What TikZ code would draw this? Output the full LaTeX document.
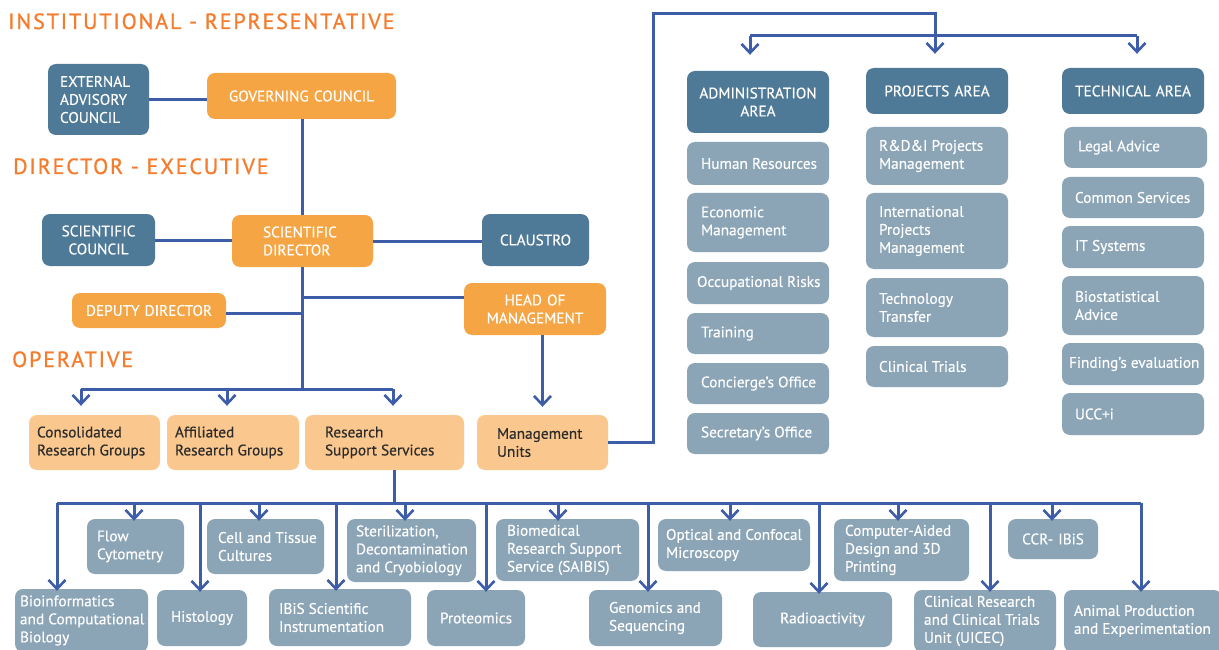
\documentclass[tikz,border=0pt]{standalone}
\usepackage{fontspec}
\setmainfont{PT Sans}[FakeBold=0.3]
\newfontfamily\boxfont{PT Sans}[FakeBold=0.35]
\newfontfamily\titlefont{PT Sans}[LetterSpace=8.5,FakeBold=0.9]
\usetikzlibrary{arrows.meta,calc}
\definecolor{dk}{HTML}{4F7A97}
\definecolor{gy}{HTML}{8BA4B6}
\definecolor{og}{HTML}{F6A545}
\definecolor{lo}{HTML}{FAC88E}
\definecolor{ln}{HTML}{3D5DA8}
\definecolor{ttl}{HTML}{F47C2C}
\definecolor{dtxt}{HTML}{2B2B2B}
% left-aligned box: #1 inset, #2 style, #3 name, #4 x1, #5 y1, #6 x2, #7 y2, #8 text
\newcommand\bx[8][10]{%
  \pgfmathsetmacro\bxw{#6-#4}%
  \pgfmathsetmacro\bxh{#7-#5}%
  \node[#2, inner sep=0pt, minimum width=\bxw pt, minimum height=\bxh pt]
        (#3) at ({(#4+#6)/2},{(#5+#7)/2}) {};
  \node[#2 text, anchor=west, align=left, inner sep=0pt]
        (#3t) at ($(#3.west)+(#1,0)$) {#8};}
% centred box
\newcommand\bc[8][10]{%
  \pgfmathsetmacro\bxtw{#6-#4-2*#1}%
  \pgfmathsetmacro\bxw{#6-#4}%
  \pgfmathsetmacro\bxh{#7-#5}%
  \node[#2, #2 text, align=center, inner xsep=#1pt, inner ysep=0pt, text width=\bxtw pt,
        minimum width=\bxw pt, minimum height=\bxh pt]
        (#3) at ({(#4+#6)/2},{(#5+#7)/2}) {#8};}
\tikzset{
  boxbase/.style={rounded corners=8pt},
  txtbase/.style={font=\boxfont\fontsize{15.3}{18}\selectfont},
  dkbox/.style={boxbase, fill=dk},
  gybox/.style={boxbase, fill=gy},
  ogbox/.style={boxbase, fill=og},
  lobox/.style={boxbase, fill=lo},
  dkbox text/.style={txtbase, text=white},
  gybox text/.style={txtbase, text=white},
  ogbox text/.style={txtbase, text=white},
  lobox text/.style={txtbase, text=dtxt},
  conn/.style={draw=ln, line width=3pt},
  arr/.style={conn, -{Straight Barb[length=9pt,width=17pt,line width=2.6pt]}},
  ttlstyle/.style={anchor=base west, inner sep=0pt, text=ttl, font=\titlefont\fontsize{22}{26}\selectfont}
}
\begin{document}
\begin{tikzpicture}[x=1pt,y=-1pt]
\useasboundingbox[fill=white] (0,0) rectangle (1219,650);

% titles
\node[ttlstyle] (t1) at (8,29) {INSTITUTIONAL - REPRESENTATIVE};
\node[ttlstyle] (t2) at (13,174) {DIRECTOR - EXECUTIVE};
\node[ttlstyle] (t3) at (12,367) {OPERATIVE};

% governance
\bx[12]{dkbox}{EAC}{48}{64}{149}{135}{EXTERNAL\\ADVISORY\\COUNCIL}
\bc[10]{ogbox}{GC}{207}{73}{396}{119}{GOVERNING COUNCIL}
\bc[8]{dkbox}{SC}{42}{214}{155}{266}{SCIENTIFIC\\COUNCIL}
\bx[31]{ogbox}{SD}{232}{215}{373}{267}{SCIENTIFIC\\DIRECTOR}
\bc[8]{dkbox}{CL}{482}{214}{589}{266}{CLAUSTRO}
\bc[6]{ogbox}{DD}{72}{293}{226}{328}{DEPUTY DIRECTOR}
\bc[6]{ogbox}{HM}{464}{283}{606}{335}{HEAD OF\\MANAGEMENT}

% operative
\bx[8]{lobox}{CRG}{29}{415}{160}{470}{Consolidated\\Research Groups}
\bx[8]{lobox}{ARG}{167}{415}{299}{470}{Affiliated\\Research Groups}
\bx[20]{lobox}{RSS}{305}{415}{464}{470}{Research\\Support Services}
\bx[20]{lobox}{MU}{477}{415}{608}{470}{Management\\Units}

% administration
\bc[6]{dkbox}{AA}{687}{71}{829}{133}{ADMINISTRATION\\AREA}
\bx[14]{gybox}{HR}{687}{142}{829}{185}{Human Resources}
\bx[14]{gybox}{EM}{687}{193}{829}{252}{Economic\\Management}
\bx[10]{gybox}{OR}{687}{262}{829}{304}{Occupational Risks}
\bx[14]{gybox}{TR}{687}{313}{829}{354}{Training}
\bx[14]{gybox}{CO}{687}{363}{829}{404}{Concierge’s Office}
\bx[14]{gybox}{SO}{687}{413}{829}{454}{Secretary’s Office}

% projects
\bc[6]{dkbox}{PA}{866}{68}{1008}{114}{PROJECTS AREA}
\bx[13]{gybox}{RD}{866}{127}{1008}{185}{R\&D\&I Projects\\Management}
\bx[13]{gybox}{IP}{866}{193}{1008}{269}{International\\Projects\\Management}
\bx[13]{gybox}{TT}{866}{278}{1008}{337}{Technology\\Transfer}
\bx[13]{gybox}{CT}{866}{346}{1008}{387}{Clinical Trials}

% technical
\bc[6]{dkbox}{TA}{1062}{68}{1204}{114}{TECHNICAL AREA}
\bx[14]{gybox}{LA}{1064}{127}{1207}{168}{Legal Advice}
\bx[13]{gybox}{CS}{1062}{177}{1204}{218}{Common Services}
\bx[13]{gybox}{IT}{1062}{226}{1204}{268}{IT Systems}
\bx[13]{gybox}{BA}{1062}{276}{1204}{335}{Biostatistical\\Advice}
\bx[7]{gybox}{FE}{1062}{343}{1204}{385}{Finding’s evaluation}
\bx[13]{gybox}{UC}{1062}{393}{1204}{435}{UCC+i}

% research support services row 1
\bx[10]{gybox}{FC}{87}{519}{184}{574}{Flow\\Cytometry}
\bx[11]{gybox}{CTC}{207}{519}{324}{574}{Cell and Tissue\\Cultures}
\bx[9]{gybox}{ST}{347}{519}{476}{582}{Sterilization,\\Decontamination\\and Cryobiology}
\bx[11]{gybox}{BRS}{496}{519}{639}{581}{Biomedical\\Research Support\\Service (SAIBIS)}
\bx[8]{gybox}{OCM}{658}{519}{810}{571}{Optical and Confocal\\Microscopy}
\bx[11]{gybox}{CAD}{834}{519}{969}{581}{Computer-Aided\\Design and 3D\\Printing}
\bc[4]{gybox}{CCR}{1008}{519}{1098}{559}{CCR- IBiS}
% row 2
\bx[5]{gybox}{BCB}{15}{589}{148}{652}{Bioinformatics\\and Computational\\Biology}
\bc[4]{gybox}{HI}{157}{590}{247}{646}{Histology}
\bx[10]{gybox}{ISI}{269}{589}{411}{646}{IBiS Scientific\\Instrumentation}
\bc[4]{gybox}{PR}{427}{590}{525}{646}{Proteomics}
\bx[20]{gybox}{GS}{589}{590}{722}{646}{Genomics and\\Sequencing}
\bc[4]{gybox}{RA}{753}{592}{892}{647}{Radioactivity}
\bx[10]{gybox}{UI}{914}{590}{1056}{652}{Clinical Research\\and Clinical Trials\\Unit (UICEC)}
\bx[10]{gybox}{AP}{1064}{590}{1222}{652}{Animal Production\\and Experimentation}

% ---- connectors ----
\coordinate (trunk) at (302,389);
\draw[conn] (EAC.east) -- (EAC.east -| GC.west);
\draw[conn] (GC.south -| trunk) -- (SD.north -| trunk);
\draw[conn] (SC.east) -- (SC.east -| SD.west);
\draw[conn] (SD.east) -- (SD.east -| CL.west);
\draw[conn] (SD.south -| trunk) -- (trunk);
\draw[conn] (DD.east) ++(0,2.5) coordinate (ddj) -- (ddj -| trunk);
\draw[conn] (HM.west) ++(0,-12) coordinate (hmj) -- (hmj -| trunk);
\draw[arr, shorten >=-1pt] (HM.south -| MU.north) -- ($(MU.north)+(0,-9)$);

\coordinate (opL) at (81,389);
\coordinate (opM) at (227,389);
\coordinate (opR) at (393,389);
\draw[conn] (opL) -- (opR);
\draw[arr] (opL) -- ($(opL |- CRG.north)+(0,-9)$);
\draw[arr] (opM) -- ($(opM |- ARG.north)+(0,-9)$);
\draw[arr] (opR) -- ($(opR |- RSS.north)+(0,-9)$);

% management units to areas
\coordinate (mgL) at (653,14);
\coordinate (mgR) at (935,14);
\coordinate (arL) at (750,36);
\coordinate (arR) at (1137,36);
\draw[conn] (MU.east) -| (mgL) -- (mgR) -- (mgR |- arL);
\draw[conn] (arL) -- (arR);
\draw[arr] (mgR |- arL) -- ($(mgR |- PA.north)+(0,-14)$);
\draw[arr] (arL) -- ($(arL |- AA.north)+(0,-16)$);
\draw[arr] (arR) -- ($(arR |- TA.north)+(0,-14)$);

% research support services distribution
\coordinate (rsL) at (57,503);
\coordinate (rsR) at (1141,503);
\coordinate (rsJ) at (394,503);
\draw[conn] (RSS.south -| rsJ) -- (rsJ);
\draw[conn] (rsL) -- (rsR);
\foreach \xx/\nn in {134/FC,259/CTC,405/ST,558/BRS,730/OCM,898/CAD,1052/CCR,
                     57/BCB,200/HI,336/ISI,486/PR,648/GS,819/RA,990/UI,1141/AP}{
  \coordinate (j\nn) at (\xx,503);
  \draw[arr] (j\nn) -- ($(j\nn |- \nn.north)+(0,2)$);
}
\end{tikzpicture}
\end{document}
